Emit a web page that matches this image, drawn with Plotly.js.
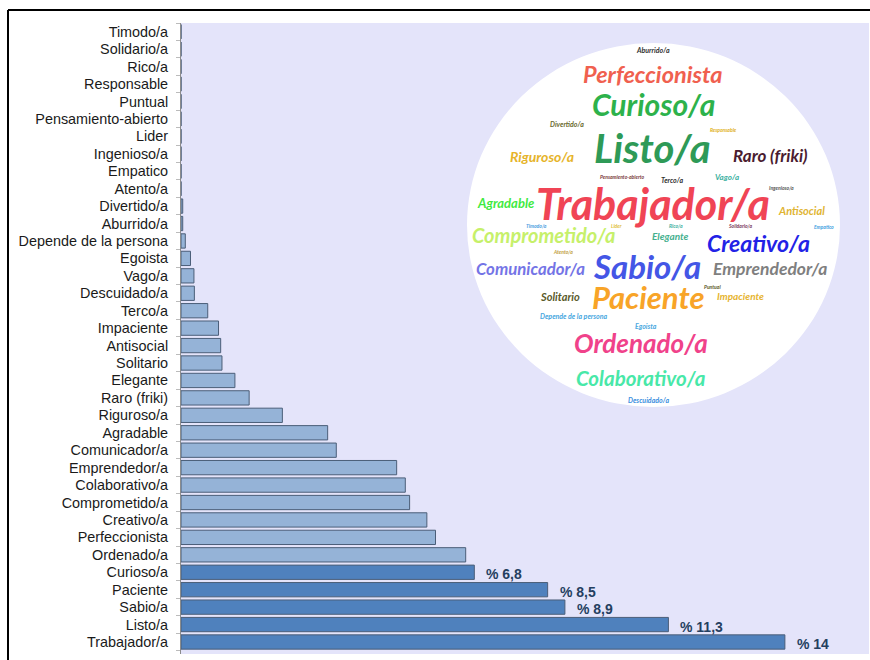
<!DOCTYPE html>
<html>
<head>
<meta charset="utf-8">
<script src="https://cdn.plot.ly/plotly-3.0.1.min.js"></script>
<style>
  html, body { margin: 0; padding: 0; background: #ffffff; }
  #chart { width: 870px; height: 660px; }
</style>
</head>
<body>
<div id="chart"></div>
<script>
// ---------- DATA ----------
const categories = ["Trabajador/a","Listo/a","Sabio/a","Paciente","Curioso/a","Ordenado/a","Perfeccionista",
  "Creativo/a","Comprometido/a","Colaborativo/a","Emprendedor/a","Comunicador/a","Agradable","Riguroso/a",
  "Raro (friki)","Elegante","Solitario","Antisocial","Impaciente","Terco/a","Descuidado/a","Vago/a","Egoista",
  "Depende de la persona","Aburrido/a","Divertido/a","Atento/a","Empatico","Ingenioso/a","Lider",
  "Pensamiento-abierto","Puntual","Responsable","Rico/a","Solidario/a","Timodo/a"];
const values = [14, 11.3, 8.9, 8.5, 6.8, 6.6, 5.9, 5.7, 5.3, 5.2, 5.0, 3.6, 3.4, 2.35,
  1.58, 1.25, 0.95, 0.92, 0.87, 0.62, 0.31, 0.3, 0.22, 0.1, 0.04, 0.04, 0, 0, 0, 0, 0, 0, 0, 0, 0, 0];
const valueLabels = ["% 14", "% 11,3", "% 8,9", "% 8,5", "% 6,8"];

const cloudWords = ["Aburrido/a","Perfeccionista","Curioso/a","Divertido/a","Listo/a","Responsable",
  "Riguroso/a","Raro (friki)","Pensamiento-abierto","Terco/a","Vago/a","Ingenioso/a","Trabajador/a",
  "Agradable","Antisocial","Timodo/a","Comprometido/a","Lider","Rico/a","Elegante","Solidario/a",
  "Creativo/a","Empatico","Atento/a","Comunicador/a","Sabio/a","Emprendedor/a","Solitario","Paciente",
  "Puntual","Impaciente","Depende de la persona","Egoista","Ordenado/a","Colaborativo/a","Descuidado/a"];

// ---------- LAYOUT / STYLE (pixel placement of the word cloud) ----------
// [centre x px, centre y px, font size, colour]
const cloudStyle = [
  [653, 50, 7, "#333333"],
  [653, 74, 23.5, "#F0604F"],
  [653, 104, 30, "#2DB24B"],
  [567, 124, 7, "#6B6B2F"],
  [652, 148, 40, "#2E9A57"],
  [723, 130, 5, "#E0B020"],
  [542, 156, 14, "#E6B42A"],
  [770, 155, 17, "#4A1C30"],
  [622, 177, 5, "#7A3A3A"],
  [672, 180, 7, "#333333"],
  [727, 177, 8, "#3BB0A0"],
  [781, 188, 5, "#555555"],
  [653, 203, 43, "#F04455"],
  [505, 203, 13, "#3FEA3F"],
  [801, 211, 11, "#E0B432"],
  [536, 226, 5, "#4AA0E0"],
  [543, 235, 20, "#C6F06A"],
  [616, 226, 5, "#E0C040"],
  [676, 226, 5, "#3BB0A0"],
  [670, 236, 10, "#45B08E"],
  [740, 226, 5, "#7A3A5A"],
  [758, 243, 23, "#2222E6"],
  [824, 227, 5, "#40A0E0"],
  [563, 252, 5, "#C0A040"],
  [530, 268, 16.8, "#7474E6"],
  [647, 266, 33, "#4456E6"],
  [770, 268, 17.5, "#7F7F7F"],
  [560, 296, 11, "#5A5A2A"],
  [648, 297, 31, "#F8A428"],
  [712, 287, 5, "#5A5A2A"],
  [740, 296, 10, "#E6B430"],
  [574, 316, 7, "#4AA8E0"],
  [646, 326, 7, "#4AA8E0"],
  [641, 343, 26, "#F0428A"],
  [641, 378, 20.5, "#48E8A8"],
  [648, 400, 7, "#3C90E0"]
];

const W = 870, H = 660;
const M = {l: 181, r: 1, t: 23, b: 6};
const PW = W - M.l - M.r, PH = H - M.t - M.b;
const px2x = x => (x - M.l) / PW;
const px2y = y => (H - M.b - y) / PH;

const nHighlight = valueLabels.length;
const barColors = values.map((v, i) => i < nHighlight ? "#4F81BD" : "#95B3D7");

const trace = {
  type: "bar",
  orientation: "h",
  y: categories,
  x: values,
  marker: {color: barColors, line: {color: "#4B5E78", width: 1}},
  hoverinfo: "x+y"
};

const annotations = [];
valueLabels.forEach((t, i) => {
  annotations.push({
    x: values[i], y: categories[i], xref: "x", yref: "y",
    text: t, showarrow: false, xanchor: "left", yanchor: "middle",
    xshift: 10, yshift: -2,
    font: {family: "Liberation Sans, Arial, sans-serif", size: 14, color: "#243F60", weight: "bold"}
  });
});
cloudWords.forEach((w, i) => {
  const s = cloudStyle[i];
  annotations.push({
    x: px2x(s[0]), y: px2y(s[1]), xref: "paper", yref: "paper",
    text: w, showarrow: false, xanchor: "center", yanchor: "middle",
    borderpad: 0,
    font: {family: "Lato, 'Noto Sans', sans-serif", size: s[2], color: s[3], weight: "bold", style: "italic"}
  });
});

const shapes = [
  // white word-cloud disc
  {type: "circle", xref: "paper", yref: "paper", layer: "below",
   x0: px2x(467), x1: px2x(840), y0: px2y(407), y1: px2y(43),
   fillcolor: "#FFFFFF", line: {width: 0}},
  // outer frame: top and left edges
  {type: "line", xref: "paper", yref: "paper", x0: px2x(8), x1: px2x(870), y0: px2y(10), y1: px2y(10),
   line: {color: "#000000", width: 2}},
  {type: "line", xref: "paper", yref: "paper", x0: px2x(8), x1: px2x(8), y0: px2y(10), y1: px2y(660),
   line: {color: "#000000", width: 2}}
];

const layout = {
  width: W, height: H,
  margin: M,
  paper_bgcolor: "#FFFFFF",
  plot_bgcolor: "#E4E4FA",
  showlegend: false,
  bargap: 0.18,
  xaxis: {visible: false, range: [0, 15.95], fixedrange: true},
  yaxis: {
    type: "category",
    categoryorder: "array", categoryarray: categories,
    showline: true, linecolor: "#8C8C8C", linewidth: 1,
    ticks: "outside", tickson: "boundaries", ticklen: 4, tickcolor: "#BBBBBB",
    ticklabelstandoff: 9,
    showgrid: false, zeroline: false,
    tickfont: {family: "Liberation Sans, Arial, sans-serif", size: 14.4, color: "#1A1A1A"},
    automargin: false, fixedrange: true
  },
  annotations: annotations,
  shapes: shapes
};

Plotly.newPlot("chart", [trace], layout, {displayModeBar: false, staticPlot: true});
</script>
</body>
</html>
